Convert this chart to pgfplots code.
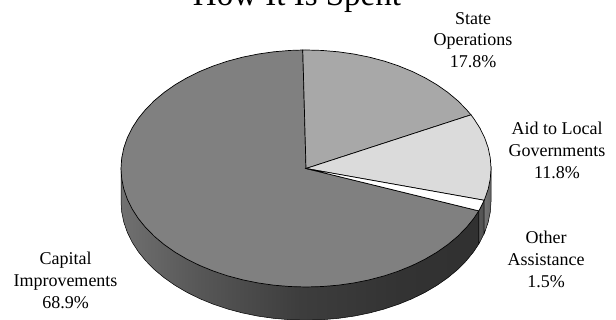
\documentclass[border=0pt]{standalone}
\usepackage{pgfplots}
\pgfplotsset{compat=1.18}
\usepackage{fontspec}
\setmainfont{Liberation Serif}

% Side-wall gradient: the path's extent maps onto 25bp..75bp
\pgfdeclarehorizontalshading{capitalwall}{100bp}{
  rgb(0bp)=(.44,.44,.44); rgb(25bp)=(.44,.44,.44); rgb(36bp)=(.34,.34,.34);
  rgb(50bp)=(.24,.24,.24); rgb(64bp)=(.20,.20,.20); rgb(75bp)=(.19,.19,.19);
  rgb(100bp)=(.19,.19,.19)}
\pgfdeclarehorizontalshading{otherwall}{100bp}{
  rgb(0bp)=(.36,.36,.36); rgb(100bp)=(.30,.30,.30)}
\pgfdeclarehorizontalshading{aidwall}{100bp}{
  rgb(0bp)=(.46,.46,.46); rgb(25bp)=(.46,.46,.46); rgb(75bp)=(.40,.40,.40);
  rgb(100bp)=(.40,.40,.40)}

\begin{document}
\begin{tikzpicture}[x=1pt,y=1pt]
\path[use as bounding box, clip] (0,0) rectangle (616,320);
\begin{axis}[
  at={(0,0)}, anchor=south west,
  scale only axis, width=616pt, height=320pt,
  xmin=-1.65405, xmax=1.67568,
  ymin=-1.27848, ymax=1.42194,
  hide axis,
]
% Side walls: lower rim of the disc
\addplot[draw=black, line width=0.5pt, shade, shading=capitalwall] coordinates {
  (0.9338,-0.3577) (0.9338,-0.6377) (0.9063,-0.7026) (0.8660,-0.78) (0.8192,-0.8536)
  (0.7660,-0.9228) (0.7071,-0.9871) (0.6428,-1.046) (0.5736,-1.0992) (0.5,-1.146)
  (0.4226,-1.1863) (0.3420,-1.2197) (0.2588,-1.2459) (0.1736,-1.2648) (0.0872,-1.2762)
  (0,-1.28) (-0.0872,-1.2762) (-0.1736,-1.2648) (-0.2588,-1.2459) (-0.3420,-1.2197)
  (-0.4226,-1.1863) (-0.5,-1.146) (-0.5736,-1.0992) (-0.6428,-1.046) (-0.7071,-0.9871)
  (-0.7660,-0.9228) (-0.8192,-0.8536) (-0.8660,-0.78) (-0.9063,-0.7026) (-0.9397,-0.622)
  (-0.9659,-0.5388) (-0.9848,-0.4536) (-0.9962,-0.3672) (-1,-0.28) (-1,0) (0,0)
} -- cycle;
\addplot[draw=black, line width=0.5pt, shade, shading=otherwall] coordinates {
  (0.9634,-0.2682) (0.9634,-0.5482) (0.9397,-0.622) (0.9338,-0.6377) (0.9338,-0.3577)
} -- cycle;
\addplot[draw=black, line width=0.5pt, shade, shading=aidwall] coordinates {
  (1,0) (1,-0.28) (0.9962,-0.3672) (0.9848,-0.4536) (0.9659,-0.5388) (0.9634,-0.5482)
  (0.9634,-0.2682)
} -- cycle;

% Top face, in (angle, radius): a slice spans its share times 3.6 degrees
% Capital Improvements 68.9%
\addplot[data cs=polar, fill=black!50, draw=black, line width=0.7pt] coordinates {
  (0,0) (-20.96,1) (-25,1) (-30,1) (-35,1) (-40,1) (-45,1) (-50,1) (-55,1) (-60,1)
  (-65,1) (-70,1) (-75,1) (-80,1) (-85,1) (-90,1) (-95,1) (-100,1) (-105,1) (-110,1)
  (-115,1) (-120,1) (-125,1) (-130,1) (-135,1) (-140,1) (-145,1) (-150,1) (-155,1)
  (-160,1) (-165,1) (-170,1) (-175,1) (-180,1) (-185,1) (-190,1) (-195,1) (-200,1)
  (-205,1) (-210,1) (-215,1) (-220,1) (-225,1) (-230,1) (-235,1) (-240,1) (-245,1)
  (-250,1) (-255,1) (-260,1) (-265,1) (-269,1)
} -- cycle;
% State Operations 17.8%
\addplot[data cs=polar, fill=black!34, draw=black, line width=0.7pt] coordinates {
  (0,0) (91,1) (90,1) (85,1) (80,1) (75,1) (70,1) (65,1) (60,1) (55,1) (50,1)
  (45,1) (40,1) (35,1) (30,1) (26.92,1)
} -- cycle;
% Aid to Local Governments 11.8%
\addplot[data cs=polar, fill=black!14, draw=black, line width=0.7pt] coordinates {
  (0,0) (26.92,1) (25,1) (20,1) (15,1) (10,1) (5,1) (0,1) (-5,1) (-10,1) (-15,1)
  (-15.56,1)
} -- cycle;
% Other Assistance 1.5%
\addplot[data cs=polar, fill=white, draw=black, line width=0.7pt] coordinates {
  (0,0) (-15.56,1) (-20,1) (-20.96,1)
} -- cycle;
\end{axis}

\node[anchor=base, inner sep=0pt, font=\fontsize{33}{36}\selectfont] at (297,314) {How It Is Spent};
\tikzset{lab/.style={anchor=north, inner sep=0pt, align=center, font=\fontsize{18}{21.8}\selectfont}}
\node[lab] at (473,308) {State\\Operations\\17.8\%};
\node[lab] at (557,198) {Aid to Local\\Governments\\11.8\%};
\node[lab] at (546,89) {Other\\Assistance\\1.5\%};
\node[lab] at (65.5,68) {Capital\\Improvements\\68.9\%};
\end{tikzpicture}
\end{document}
